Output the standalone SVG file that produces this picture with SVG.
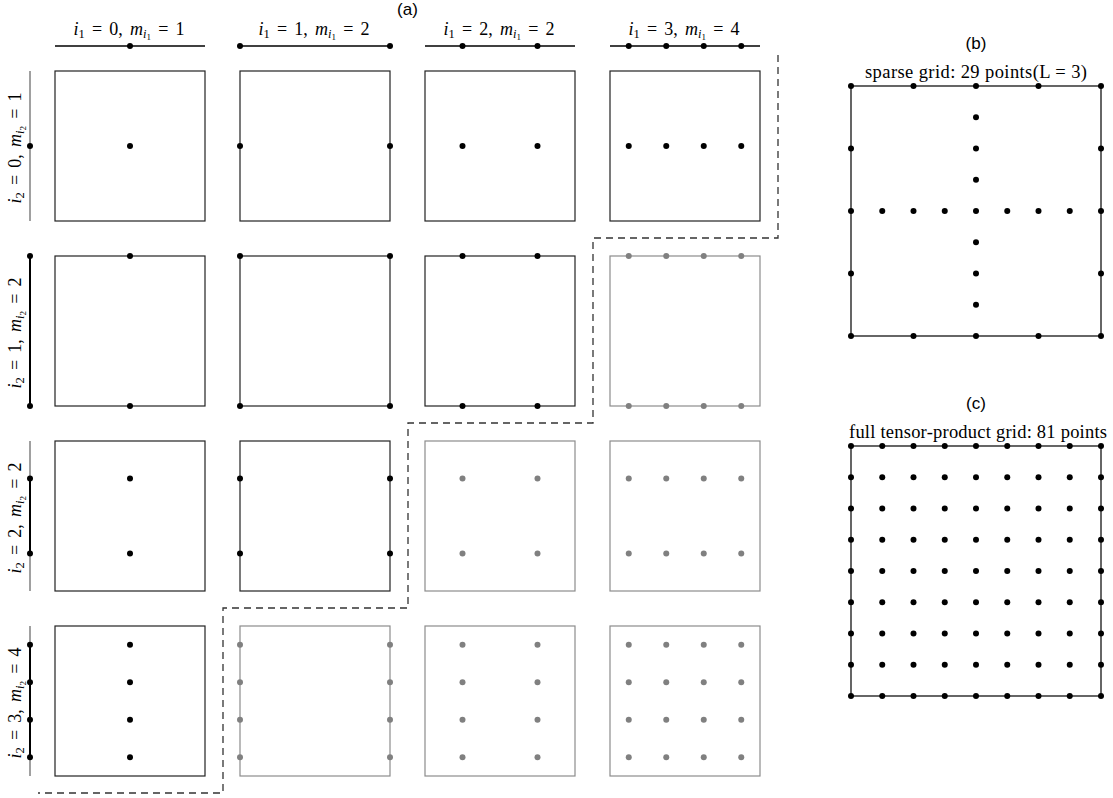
<svg xmlns="http://www.w3.org/2000/svg" xmlns:xlink="http://www.w3.org/1999/xlink" width="1113" height="798" viewBox="0 0 1113 798">
<style>
.bg{fill:#fff}
.bx{fill:none;stroke:#222;stroke-width:1.2}
.gx{fill:none;stroke:#8c8c8c;stroke-width:1.2}
.d{fill:#000}
.g{fill:#808080}
.ax{stroke:#000;stroke-width:1.3}
.axg{stroke:#808080;stroke-width:1.5}
.axb{stroke:#000;stroke-width:2}
.dash{fill:none;stroke:#333;stroke-width:1.3;stroke-dasharray:7,5}
.m{font-family:"Liberation Serif","Times New Roman",serif;font-size:18px;fill:#000}
.p{font-size:18.5px}
.lab{word-spacing:2.7px}
.it{font-style:italic}
.s{font-size:12.5px}
.ss{font-size:9px}
.t{font-family:"Liberation Sans",Arial,sans-serif;font-size:17px;fill:#000}
</style>
<defs>
<g id="row9">
<circle class="d" cx="851" cy="0" r="3"/><circle class="d" cx="882.25" cy="0" r="3"/><circle class="d" cx="913.5" cy="0" r="3"/><circle class="d" cx="944.75" cy="0" r="3"/><circle class="d" cx="976" cy="0" r="3"/><circle class="d" cx="1007.25" cy="0" r="3"/><circle class="d" cx="1038.5" cy="0" r="3"/><circle class="d" cx="1069.75" cy="0" r="3"/><circle class="d" cx="1101" cy="0" r="3"/>
</g>
<g id="gx4">
<circle class="g" cx="628.75" cy="0" r="3"/><circle class="g" cx="666.25" cy="0" r="3"/><circle class="g" cx="703.75" cy="0" r="3"/><circle class="g" cx="741.25" cy="0" r="3"/>
</g>
<g id="gx2">
<circle class="g" cx="462.5" cy="0" r="3"/><circle class="g" cx="537.5" cy="0" r="3"/>
</g>
<g id="gx1">
<circle class="g" cx="240" cy="0" r="3"/><circle class="g" cx="390" cy="0" r="3"/>
</g>
</defs>
<rect class="bg" x="0" y="0" width="1113" height="798"/>

<text class="t" x="407.5" y="15" text-anchor="middle">(a)</text>
<text class="t" x="976" y="49" text-anchor="middle">(b)</text>
<text class="t" x="976" y="409" text-anchor="middle">(c)</text>

<g id="top-axes">
<text class="m lab" x="129" y="35" text-anchor="middle"><tspan class="it">i</tspan><tspan class="s" dy="3">1</tspan><tspan dy="-3"> = 0, </tspan><tspan class="it">m</tspan><tspan class="s it" dy="3">i</tspan><tspan class="ss" dy="2">1</tspan><tspan dy="-5"> = 1</tspan></text>
<line class="ax" x1="55" y1="46" x2="205" y2="46"/>
<circle class="d" cx="130" cy="46" r="3"/>
<text class="m lab" x="314" y="35" text-anchor="middle"><tspan class="it">i</tspan><tspan class="s" dy="3">1</tspan><tspan dy="-3"> = 1, </tspan><tspan class="it">m</tspan><tspan class="s it" dy="3">i</tspan><tspan class="ss" dy="2">1</tspan><tspan dy="-5"> = 2</tspan></text>
<line class="ax" x1="240" y1="46" x2="390" y2="46"/>
<circle class="d" cx="240" cy="46" r="3"/><circle class="d" cx="390" cy="46" r="3"/>
<text class="m lab" x="499" y="35" text-anchor="middle"><tspan class="it">i</tspan><tspan class="s" dy="3">1</tspan><tspan dy="-3"> = 2, </tspan><tspan class="it">m</tspan><tspan class="s it" dy="3">i</tspan><tspan class="ss" dy="2">1</tspan><tspan dy="-5"> = 2</tspan></text>
<line class="ax" x1="425" y1="46" x2="575" y2="46"/>
<circle class="d" cx="462.5" cy="46" r="3"/><circle class="d" cx="537.5" cy="46" r="3"/>
<text class="m lab" x="684" y="35" text-anchor="middle"><tspan class="it">i</tspan><tspan class="s" dy="3">1</tspan><tspan dy="-3"> = 3, </tspan><tspan class="it">m</tspan><tspan class="s it" dy="3">i</tspan><tspan class="ss" dy="2">1</tspan><tspan dy="-5"> = 4</tspan></text>
<line class="ax" x1="610" y1="46" x2="760" y2="46"/>
<circle class="d" cx="628.75" cy="46" r="3"/><circle class="d" cx="666.25" cy="46" r="3"/><circle class="d" cx="703.75" cy="46" r="3"/><circle class="d" cx="741.25" cy="46" r="3"/>
</g>

<g id="left-axes">
<text class="m lab" transform="translate(21,148) rotate(-90)" text-anchor="middle"><tspan class="it">i</tspan><tspan class="s" dy="3">2</tspan><tspan dy="-3"> = 0, </tspan><tspan class="it">m</tspan><tspan class="s it" dy="3">i</tspan><tspan class="ss" dy="2">2</tspan><tspan dy="-5"> = 1</tspan></text>
<line class="axg" x1="30" y1="71" x2="30" y2="221"/>
<circle class="d" cx="30" cy="146" r="3"/>
<text class="m lab" transform="translate(21,333) rotate(-90)" text-anchor="middle"><tspan class="it">i</tspan><tspan class="s" dy="3">2</tspan><tspan dy="-3"> = 1, </tspan><tspan class="it">m</tspan><tspan class="s it" dy="3">i</tspan><tspan class="ss" dy="2">2</tspan><tspan dy="-5"> = 2</tspan></text>
<line class="axb" x1="30" y1="256" x2="30" y2="406"/>
<circle class="d" cx="30" cy="256" r="3"/><circle class="d" cx="30" cy="406" r="3"/>
<text class="m lab" transform="translate(21,518) rotate(-90)" text-anchor="middle"><tspan class="it">i</tspan><tspan class="s" dy="3">2</tspan><tspan dy="-3"> = 2, </tspan><tspan class="it">m</tspan><tspan class="s it" dy="3">i</tspan><tspan class="ss" dy="2">2</tspan><tspan dy="-5"> = 2</tspan></text>
<line class="axg" x1="30" y1="441" x2="30" y2="591"/>
<line class="axb" x1="30" y1="478.5" x2="30" y2="553.5"/>
<circle class="d" cx="30" cy="478.5" r="3"/><circle class="d" cx="30" cy="553.5" r="3"/>
<text class="m lab" transform="translate(21,703) rotate(-90)" text-anchor="middle"><tspan class="it">i</tspan><tspan class="s" dy="3">2</tspan><tspan dy="-3"> = 3, </tspan><tspan class="it">m</tspan><tspan class="s it" dy="3">i</tspan><tspan class="ss" dy="2">2</tspan><tspan dy="-5"> = 4</tspan></text>
<line class="axg" x1="30" y1="626" x2="30" y2="776"/>
<line class="axb" x1="30" y1="644.75" x2="30" y2="757.25"/>
<circle class="d" cx="30" cy="644.75" r="3"/><circle class="d" cx="30" cy="682.25" r="3"/><circle class="d" cx="30" cy="719.75" r="3"/><circle class="d" cx="30" cy="757.25" r="3"/>
</g>

<g id="box-0-0"><rect class="bx" x="55" y="71" width="150" height="150"/><circle class="d" cx="130" cy="146" r="3"/></g>
<g id="box-0-1"><rect class="bx" x="240" y="71" width="150" height="150"/><circle class="d" cx="240" cy="146" r="3"/><circle class="d" cx="390" cy="146" r="3"/></g>
<g id="box-0-2"><rect class="bx" x="425" y="71" width="150" height="150"/><circle class="d" cx="462.5" cy="146" r="3"/><circle class="d" cx="537.5" cy="146" r="3"/></g>
<g id="box-0-3"><rect class="bx" x="610" y="71" width="150" height="150"/><circle class="d" cx="628.75" cy="146" r="3"/><circle class="d" cx="666.25" cy="146" r="3"/><circle class="d" cx="703.75" cy="146" r="3"/><circle class="d" cx="741.25" cy="146" r="3"/></g>

<g id="box-1-0"><rect class="bx" x="55" y="256" width="150" height="150"/><circle class="d" cx="130" cy="256" r="3"/><circle class="d" cx="130" cy="406" r="3"/></g>
<g id="box-1-1"><rect class="bx" x="240" y="256" width="150" height="150"/><circle class="d" cx="240" cy="256" r="3"/><circle class="d" cx="390" cy="256" r="3"/><circle class="d" cx="240" cy="406" r="3"/><circle class="d" cx="390" cy="406" r="3"/></g>
<g id="box-1-2"><rect class="bx" x="425" y="256" width="150" height="150"/><circle class="d" cx="462.5" cy="256" r="3"/><circle class="d" cx="537.5" cy="256" r="3"/><circle class="d" cx="462.5" cy="406" r="3"/><circle class="d" cx="537.5" cy="406" r="3"/></g>
<g id="box-1-3"><rect class="gx" x="610" y="256" width="150" height="150"/><use xlink:href="#gx4" y="256"/><use xlink:href="#gx4" y="406"/></g>

<g id="box-2-0"><rect class="bx" x="55" y="441" width="150" height="150"/><circle class="d" cx="130" cy="478.5" r="3"/><circle class="d" cx="130" cy="553.5" r="3"/></g>
<g id="box-2-1"><rect class="bx" x="240" y="441" width="150" height="150"/><circle class="d" cx="240" cy="478.5" r="3"/><circle class="d" cx="390" cy="478.5" r="3"/><circle class="d" cx="240" cy="553.5" r="3"/><circle class="d" cx="390" cy="553.5" r="3"/></g>
<g id="box-2-2"><rect class="gx" x="425" y="441" width="150" height="150"/><use xlink:href="#gx2" y="478.5"/><use xlink:href="#gx2" y="553.5"/></g>
<g id="box-2-3"><rect class="gx" x="610" y="441" width="150" height="150"/><use xlink:href="#gx4" y="478.5"/><use xlink:href="#gx4" y="553.5"/></g>

<g id="box-3-0"><rect class="bx" x="55" y="626" width="150" height="150"/><circle class="d" cx="130" cy="644.75" r="3"/><circle class="d" cx="130" cy="682.25" r="3"/><circle class="d" cx="130" cy="719.75" r="3"/><circle class="d" cx="130" cy="757.25" r="3"/></g>
<g id="box-3-1"><rect class="gx" x="240" y="626" width="150" height="150"/><use xlink:href="#gx1" y="644.75"/><use xlink:href="#gx1" y="682.25"/><use xlink:href="#gx1" y="719.75"/><use xlink:href="#gx1" y="757.25"/></g>
<g id="box-3-2"><rect class="gx" x="425" y="626" width="150" height="150"/><use xlink:href="#gx2" y="644.75"/><use xlink:href="#gx2" y="682.25"/><use xlink:href="#gx2" y="719.75"/><use xlink:href="#gx2" y="757.25"/></g>
<g id="box-3-3"><rect class="gx" x="610" y="626" width="150" height="150"/><use xlink:href="#gx4" y="644.75"/><use xlink:href="#gx4" y="682.25"/><use xlink:href="#gx4" y="719.75"/><use xlink:href="#gx4" y="757.25"/></g>

<g id="connectors">
<path class="dash" d="M778,55 V238 H593 V423 H408 V608 H223 V793 H38"/>
</g>

<g id="sparse-grid">
<text class="m p" x="976" y="78" text-anchor="middle" textLength="222" lengthAdjust="spacing">sparse grid: 29 points(L = 3)</text>
<rect class="bx" x="851" y="86" width="250" height="250" style="stroke:#000"/>
<circle class="d" cx="851" cy="86" r="3"/><circle class="d" cx="913.5" cy="86" r="3"/><circle class="d" cx="976" cy="86" r="3"/><circle class="d" cx="1038.5" cy="86" r="3"/><circle class="d" cx="1101" cy="86" r="3"/>
<circle class="d" cx="851" cy="336" r="3"/><circle class="d" cx="913.5" cy="336" r="3"/><circle class="d" cx="976" cy="336" r="3"/><circle class="d" cx="1038.5" cy="336" r="3"/><circle class="d" cx="1101" cy="336" r="3"/>
<circle class="d" cx="851" cy="148.5" r="3"/><circle class="d" cx="851" cy="211" r="3"/><circle class="d" cx="851" cy="273.5" r="3"/>
<circle class="d" cx="1101" cy="148.5" r="3"/><circle class="d" cx="1101" cy="211" r="3"/><circle class="d" cx="1101" cy="273.5" r="3"/>
<circle class="d" cx="882.25" cy="211" r="3"/><circle class="d" cx="913.5" cy="211" r="3"/><circle class="d" cx="944.75" cy="211" r="3"/><circle class="d" cx="976" cy="211" r="3"/><circle class="d" cx="1007.25" cy="211" r="3"/><circle class="d" cx="1038.5" cy="211" r="3"/><circle class="d" cx="1069.75" cy="211" r="3"/>
<circle class="d" cx="976" cy="117.25" r="3"/><circle class="d" cx="976" cy="148.5" r="3"/><circle class="d" cx="976" cy="179.75" r="3"/><circle class="d" cx="976" cy="242.25" r="3"/><circle class="d" cx="976" cy="273.5" r="3"/><circle class="d" cx="976" cy="304.75" r="3"/>
</g>

<g id="full-grid">
<text class="m p" x="978" y="438" text-anchor="middle" textLength="258" lengthAdjust="spacing">full tensor-product grid: 81 points</text>
<rect class="bx" x="851" y="446" width="250" height="250" style="stroke:#000"/>
<use xlink:href="#row9" y="446"/><use xlink:href="#row9" y="477.25"/><use xlink:href="#row9" y="508.5"/><use xlink:href="#row9" y="539.75"/><use xlink:href="#row9" y="571"/><use xlink:href="#row9" y="602.25"/><use xlink:href="#row9" y="633.5"/><use xlink:href="#row9" y="664.75"/><use xlink:href="#row9" y="696"/>
</g>
</svg>
